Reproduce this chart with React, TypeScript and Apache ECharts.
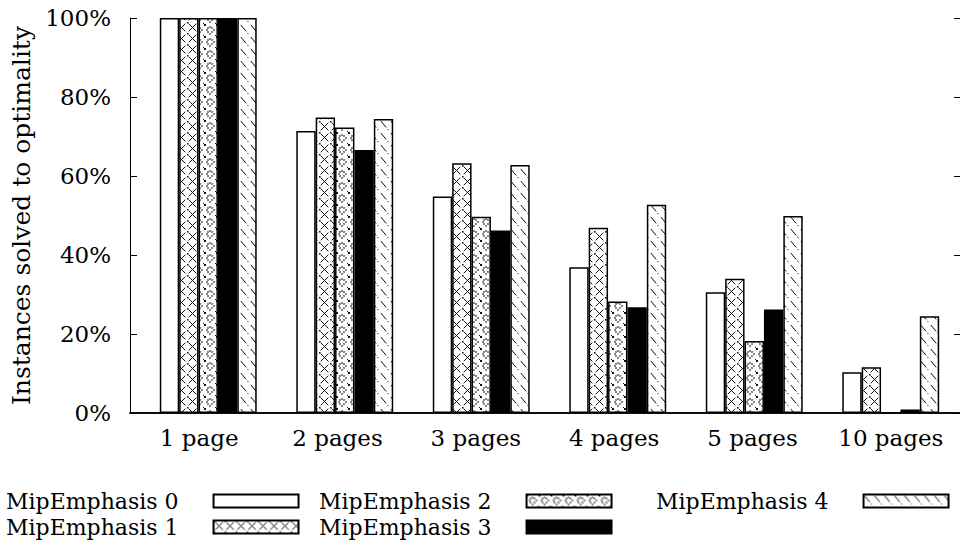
import React, { useEffect, useRef } from "react";
import * as echarts from "echarts";

const categories = ["1 page", "2 pages", "3 pages", "4 pages", "5 pages", "10 pages"];
const seriesNames = ["MipEmphasis 0", "MipEmphasis 1", "MipEmphasis 2", "MipEmphasis 3", "MipEmphasis 4"];
const mip0 = [100, 71.4, 54.8, 36.9, 30.6, 10.3];
const mip1 = [100, 74.8, 63.2, 46.9, 34.0, 11.6];
const mip2 = [100, 72.3, 49.7, 28.2, 18.2, 0];
const mip3 = [100, 66.6, 46.2, 26.8, 26.2, 0.9];
const mip4 = [100, 74.4, 62.8, 52.7, 49.9, 24.5];
const yTickStep = 20;
const yMax = 100;

const FONT = "DejaVu Serif";

function makeCanvas(w: number, h: number, draw: (ctx: CanvasRenderingContext2D) => void) {
  const c = document.createElement("canvas");
  c.width = w;
  c.height = h;
  const ctx = c.getContext("2d")!;
  ctx.fillStyle = "#fff";
  ctx.fillRect(0, 0, w, h);
  draw(ctx);
  return c;
}

function seg(ctx: CanvasRenderingContext2D, x0: number, y0: number, x1: number, y1: number, t0: number, t1: number) {
  ctx.beginPath();
  ctx.moveTo(x0 + (x1 - x0) * t0, y0 + (y1 - y0) * t0);
  ctx.lineTo(x0 + (x1 - x0) * t1, y0 + (y1 - y0) * t1);
  ctx.stroke();
}

function buildPatterns() {
  const cross = makeCanvas(11, 11, (ctx) => {
    ctx.strokeStyle = "#111";
    ctx.lineWidth = 1;
    seg(ctx, 0, 0, 11, 11, 0.15, 0.85);
    seg(ctx, 11, 0, 0, 11, 0.15, 0.85);
    ctx.fillStyle = "#111";
    ctx.fillRect(0, 0, 1.5, 1.5);
  });
  const dots = makeCanvas(12, 12, (ctx) => {
    ctx.fillStyle = "#111";
    const cx = 6, cy = 6, r = 3.5;
    for (let i = 0; i < 8; i++) {
      const a = (i * Math.PI) / 4;
      ctx.fillRect(Math.round(cx + r * Math.cos(a)) - 0.7, Math.round(cy + r * Math.sin(a)) - 0.7, 1.4, 1.4);
    }
    ctx.fillRect(0, 0, 2, 2);
    ctx.fillRect(11, 11, 1, 1);
  });
  const diag = makeCanvas(10, 12, (ctx) => {
    ctx.strokeStyle = "#111";
    ctx.lineWidth = 1;
    seg(ctx, 0, 0, 10, 12, 0.08, 0.62);
    seg(ctx, 0, 0, 10, 12, 0.76, 0.84);
  });
  const pat = (c: HTMLCanvasElement) => ({ image: c, repeat: "repeat", imageWidth: c.width, imageHeight: c.height });
  return ["#ffffff", pat(cross), pat(dots), "#000000", pat(diag)];
}

export default function App() {
  const ref = useRef<HTMLDivElement>(null);
  useEffect(() => {
    if (!ref.current) return;
    const chart = echarts.init(ref.current, null, { renderer: "svg" });
    const fills = buildPatterns();
    const values = [mip0, mip1, mip2, mip3, mip4];
    const textStyle = { fontFamily: FONT, fontSize: 23, color: "#000" };
    const bigText = { fontFamily: FONT, fontSize: 25, color: "#000" };
    const legendBase = {
      orient: "vertical",
      align: "right",
      itemWidth: 85,
      itemHeight: 13,
      itemGap: 0,
      icon: "rect",
      padding: 0,
      selectedMode: false,
      textStyle: { fontFamily: FONT, fontSize: 22, color: "#000", lineHeight: 26, padding: [0, 30, 0, 0] },
    };
    chart.setOption({
      animation: false,
      backgroundColor: "#fff",
      grid: [
        { left: 130, right: 0, top: 18, bottom: 136 },
        { left: 140, right: 1, top: 18, bottom: 136 },
      ],
      legend: [
        { ...legendBase, left: 6, top: 488, data: [seriesNames[0], seriesNames[1]] },
        { ...legendBase, left: 319, top: 488, data: [seriesNames[2], seriesNames[3]] },
        { ...legendBase, left: 656, top: 488, data: [seriesNames[4]] },
      ],
      xAxis: [
        {
          gridIndex: 0,
          type: "category",
          data: categories,
          position: "bottom",
          axisLine: { show: true, lineStyle: { color: "#000", width: 1.5 } },
          axisTick: { show: false },
          axisLabel: { ...textStyle, margin: 13 },
        },
        {
          gridIndex: 0,
          type: "category",
          data: categories,
          position: "top",
          axisLine: { show: true, lineStyle: { color: "#000", width: 1.5 } },
          axisTick: { show: false },
          axisLabel: { show: false },
        },
        { gridIndex: 1, type: "category", data: categories, show: false },
      ],
      yAxis: [
        {
          gridIndex: 0,
          type: "value",
          min: 0,
          max: yMax,
          interval: yTickStep,
          position: "left",
          name: "Instances solved to optimality",
          nameLocation: "middle",
          nameGap: 96,
          nameTextStyle: bigText,
          axisLine: { show: true, lineStyle: { color: "#000", width: 1 } },
          axisTick: { show: true, inside: true, length: 7, lineStyle: { color: "#000" } },
          axisLabel: { ...textStyle, margin: 19, formatter: (v: number) => v + "%" },
          splitLine: { show: false },
        },
        {
          gridIndex: 0,
          type: "value",
          min: 0,
          max: yMax,
          interval: yTickStep,
          position: "right",
          axisLine: { show: false },
          axisTick: { show: true, inside: true, length: 6, lineStyle: { color: "#000" } },
          axisLabel: { show: false },
          splitLine: { show: false },
        },
        { gridIndex: 1, type: "value", min: 0, max: yMax, show: false },
      ],
      series: values.map((d, i) => ({
        type: "bar",
        name: seriesNames[i],
        xAxisIndex: 2,
        yAxisIndex: 2,
        data: d,
        barGap: "0%",
        barCategoryGap: "29%",
        itemStyle: { color: fills[i], borderColor: "#000", borderWidth: 1.5 },
        emphasis: { disabled: true },
      })),
    });
    return () => chart.dispose();
  }, []);
  return (
    <div
      ref={ref}
      style={{ position: "absolute", left: 0, top: 0, width: 960, height: 549 }}
    />
  );
}
